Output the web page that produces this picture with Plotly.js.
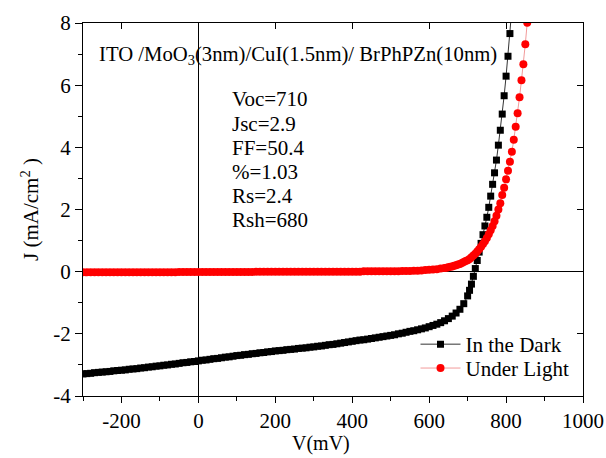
<!DOCTYPE html>
<html>
<head>
<meta charset="utf-8">
<script src="https://cdn.plot.ly/plotly-3.0.1.min.js"></script>
<style>
html,body{margin:0;padding:0;background:#fff;}
#chart{width:606px;height:458px;}
</style>
</head>
<body>
<div id="chart"></div>
<script>
// ---- Data ----
var darkV = [-300,-290,-280,-270,-260,-250,-240,-230,-220,-210,-200,-190,-180,-170,-160,-150,-140,-130,-120,-110,
  -100,-90,-80,-70,-60,-50,-40,-30,-20,-10,0,10,20,30,40,50,60,70,80,90,
  100,110,120,130,140,150,160,170,180,190,200,210,220,230,240,250,260,270,280,290,
  300,310,320,330,340,350,360,370,380,390,400,410,420,430,440,450,460,470,480,490,
  500,510,520,530,540,550,560,570,580,590,600,610,620,630,640,650,660,670,680,690,
  700,705,710,715,720,725,730,735,740,745,750,755,760,765,770,775,780,785,790,795,800,805,810,815];
var darkJ = [-3.29,-3.28,-3.27,-3.25,-3.24,-3.23,-3.22,-3.21,-3.19,-3.18,-3.17,-3.16,-3.14,-3.13,-3.12,-3.10,-3.09,-3.07,-3.06,-3.04,
  -3.03,-3.01,-3.00,-2.98,-2.97,-2.95,-2.93,-2.92,-2.90,-2.89,-2.87,-2.85,-2.84,-2.82,-2.80,-2.79,-2.77,-2.75,-2.74,-2.72,
  -2.70,-2.69,-2.67,-2.66,-2.64,-2.63,-2.61,-2.60,-2.58,-2.57,-2.55,-2.54,-2.53,-2.51,-2.50,-2.49,-2.47,-2.46,-2.45,-2.43,
  -2.42,-2.40,-2.39,-2.37,-2.35,-2.34,-2.32,-2.30,-2.28,-2.26,-2.24,-2.22,-2.20,-2.19,-2.17,-2.15,-2.13,-2.11,-2.09,-2.07,
  -2.05,-2.03,-2.00,-1.98,-1.95,-1.92,-1.90,-1.87,-1.84,-1.81,-1.77,-1.73,-1.69,-1.64,-1.58,-1.51,-1.43,-1.33,-1.21,-1.03,
  -0.78,-0.60,-0.40,-0.15,0.10,0.36,0.63,0.91,1.19,1.47,1.75,2.07,2.43,2.81,3.18,3.59,4.07,4.55,5.07,5.66,6.29,6.93,7.66,8.45];

var lightV = [-300,-290,-280,-270,-260,-250,-240,-230,-220,-210,-200,-190,-180,-170,-160,-150,-140,-130,-120,-110,
  -100,-90,-80,-70,-60,-50,-40,-30,-20,-10,0,10,20,30,40,50,60,70,80,90,
  100,110,120,130,140,150,160,170,180,190,200,210,220,230,240,250,260,270,280,290,
  300,310,320,330,340,350,360,370,380,390,400,410,420,430,440,450,460,470,480,490,
  500,510,520,530,540,550,560,570,580,590,600,610,620,630,640,
  645,650,655,660,665,670,675,680,685,690,695,700,705,710,715,720,725,730,735,740,745,750,755,760,765,770,775,780,
  785,790,795,800,805,810,815,820,825,830,835,840,845,850,855];
var lightJ = [-0.02,-0.02,-0.02,-0.02,-0.02,-0.02,-0.02,-0.02,-0.02,-0.02,-0.02,-0.02,-0.02,-0.02,-0.02,-0.02,-0.02,-0.02,-0.02,-0.02,
  -0.02,-0.02,-0.02,-0.02,-0.02,-0.01,-0.01,-0.01,-0.01,-0.01,-0.01,-0.01,-0.01,-0.01,-0.01,-0.01,-0.01,-0.01,-0.01,-0.01,
  -0.01,-0.01,-0.01,-0.01,-0.01,0.00,0.00,0.00,0.00,0.00,0.00,0.00,0.00,0.00,0.00,0.00,0.00,0.00,0.00,0.00,
  0.00,0.00,0.00,0.00,0.00,0.00,0.00,0.00,0.00,0.00,0.00,0.00,0.00,0.01,0.01,0.01,0.01,0.01,0.01,0.01,
  0.01,0.01,0.01,0.02,0.02,0.02,0.03,0.03,0.04,0.05,0.06,0.07,0.08,0.10,0.12,
  0.13,0.14,0.16,0.17,0.19,0.21,0.23,0.25,0.28,0.31,0.34,0.37,0.41,0.46,0.52,0.58,0.65,0.72,0.80,0.89,0.98,1.08,1.20,1.33,1.47,1.62,1.80,2.00,
  2.20,2.47,2.70,2.97,3.25,3.54,3.86,4.24,4.66,5.10,5.61,6.16,6.67,7.32,8.01];

var seriesNames = ["In the Dark", "Under Light"];
var xTickVals = [-200, 0, 200, 400, 600, 800, 1000];
var xTickText = ["-200", "0", "200", "400", "600", "800", "1000"];
var yTickVals = [-4, -2, 0, 2, 4, 6, 8];
var yTickText = ["-4", "-2", "0", "2", "4", "6", "8"];
var deviceLabel = "ITO /MoO<sub>3</sub>(3nm)/CuI(1.5nm)/ BrPhPZn(10nm)";
var statLabels = ["Voc=710", "Jsc=2.9", "FF=50.4", "%=1.03", "Rs=2.4", "Rsh=680"];
var xTitle = "V(mV)";
var yTitle = "J (mA/cm<sup>2</sup> )";

// ---- Chart ----
var FONT = "Liberation Serif, Times New Roman, Times, serif";

var traces = [
  {
    x: darkV, y: darkJ, name: seriesNames[0], type: "scatter", mode: "lines+markers",
    line: {color: "#333333", width: 1},
    marker: {symbol: "square", size: 7, color: "#000000"},
    legend: "legend"
  },
  {
    x: lightV, y: lightJ, name: seriesNames[1], type: "scatter", mode: "lines+markers",
    line: {color: "#f29a9a", width: 1},
    marker: {symbol: "circle", size: 8, color: "#ff0000"},
    legend: "legend2"
  },
  // empty trace so that the mirrored top/right axes (with inward ticks) are drawn
  {x: [], y: [], xaxis: "x2", yaxis: "y2", showlegend: false, hoverinfo: "skip", type: "scatter"}
];

var annotations = [{
  xref: "paper", yref: "paper", x: 0.027, y: 0.914, xanchor: "left", yanchor: "middle",
  text: deviceLabel, showarrow: false, font: {family: FONT, size: 20.7, color: "#000"}
}, {
  xref: "paper", yref: "paper", x: 0.476, y: -0.128, xanchor: "center", yanchor: "middle",
  text: xTitle, showarrow: false, font: {family: FONT, size: 20, color: "#000"}
}];
statLabels.forEach(function (s, i) {
  annotations.push({
    xref: "paper", yref: "paper", x: 0.294, y: 0.795 - i * 0.0645, xanchor: "left", yanchor: "middle",
    text: s, showarrow: false, font: {family: FONT, size: 21, color: "#000"}
  });
});

var legendBase = {
  xanchor: "left", yanchor: "top",
  bgcolor: "rgba(0,0,0,0)", borderwidth: 0,
  font: {family: FONT, size: 21, color: "#000"},
  itemwidth: 40
};

var layout = {
  width: 606, height: 458,
  margin: {l: 83, r: 23, t: 23, b: 62, pad: 0},
  paper_bgcolor: "#ffffff", plot_bgcolor: "#ffffff",
  font: {family: FONT, size: 21, color: "#000"},
  showlegend: true,
  legend: Object.assign({x: 0.665, y: 0.193}, legendBase),
  legend2: Object.assign({x: 0.665, y: 0.129}, legendBase),
  xaxis: {
    range: [-300, 1000], tickmode: "array", tickvals: xTickVals, ticktext: xTickText,
    ticks: "outside", ticklen: 6, tickwidth: 1, tickcolor: "#000",
    minor: {tickmode: "linear", tick0: -300, dtick: 100, ticks: "outside", ticklen: 4, tickwidth: 1, tickcolor: "#000", showgrid: false},
    showline: true, linecolor: "#000", linewidth: 1, mirror: false,
    showgrid: false, zeroline: true, zerolinecolor: "#000", zerolinewidth: 1,
    tickfont: {family: FONT, size: 21, color: "#000"},
    automargin: false, fixedrange: true
  },
  yaxis: {
    range: [-4, 8], tickmode: "array", tickvals: yTickVals, ticktext: yTickText,
    ticks: "outside", ticklen: 7, tickwidth: 1, tickcolor: "#000",
    minor: {tickmode: "linear", tick0: -3, dtick: 1, ticks: "outside", ticklen: 4, tickwidth: 1, tickcolor: "#000", showgrid: false},
    showline: true, linecolor: "#000", linewidth: 1, mirror: false,
    showgrid: false, zeroline: true, zerolinecolor: "#000", zerolinewidth: 1,
    tickfont: {family: FONT, size: 21, color: "#000"},
    title: {text: yTitle, font: {family: FONT, size: 21, color: "#000"}, standoff: 8},
    automargin: false, fixedrange: true
  },
  xaxis2: {
    overlaying: "x", side: "top", anchor: "y2", range: [-300, 1000],
    tickmode: "array", tickvals: xTickVals, showticklabels: false,
    ticks: "inside", ticklen: 6, tickwidth: 1, tickcolor: "#000",
    showline: true, linecolor: "#000", linewidth: 1, showgrid: false, zeroline: false, fixedrange: true
  },
  yaxis2: {
    overlaying: "y", side: "right", anchor: "x2", range: [-4, 8],
    tickmode: "array", tickvals: yTickVals, showticklabels: false,
    ticks: "inside", ticklen: 6, tickwidth: 1, tickcolor: "#000",
    showline: true, linecolor: "#000", linewidth: 1, showgrid: false, zeroline: false, fixedrange: true
  },
  annotations: annotations
};

Plotly.newPlot("chart", traces, layout, {displayModeBar: false, staticPlot: true});
</script>
</body>
</html>
